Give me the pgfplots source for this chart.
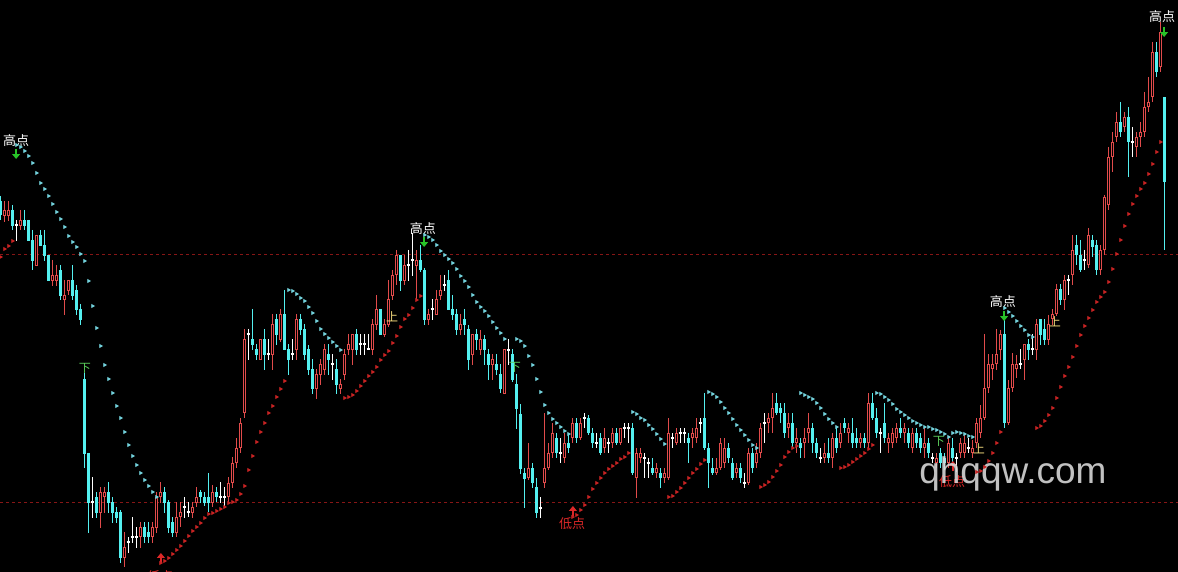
\documentclass[border=0pt]{standalone}
\usepackage{pgfplots}
\pgfplotsset{compat=1.18}
\usepackage{pgfplotstable}
\usepackage{fontspec}
\setmainfont{Liberation Sans}
\newfontfamily\cjk{Noto Sans CJK SC}
\usetikzlibrary{arrows.meta}
\definecolor{cup}{RGB}{225,75,75}
\definecolor{cdn}{RGB}{84,240,240}
\definecolor{sarc}{RGB}{115,210,220}
\definecolor{sarr}{RGB}{200,35,35}
\definecolor{dline}{RGB}{135,22,22}
\definecolor{garr}{RGB}{40,195,40}
\definecolor{ylab}{RGB}{245,220,125}
\definecolor{glab}{RGB}{90,205,90}
\definecolor{rlab}{RGB}{220,40,40}
\definecolor{wm}{RGB}{215,215,215}
% t: 0 = up (red hollow), 1 = down (cyan), 2 = doji (white); y values: top=0
\pgfplotstableread{
x t wt bt bb wb
0 1 196 201 215 220
1 0 201 210 216 222
2 0 201 210 216 221
3 1 205 210 226 230
4 2 220 225 225 241
5 0 210 220 226 230
6 1 210 220 226 230
7 1 220 220 241 241
8 1 230 240 261 270
9 0 235 235 266 266
10 1 230 235 246 246
11 1 230 245 256 261
12 1 255 255 281 281
13 0 260 275 281 286
14 0 265 275 281 286
15 1 265 270 296 300
16 0 280 295 300 315
17 0 280 280 291 295
18 1 265 280 296 300
19 1 285 290 310 315
20 1 304 309 320 325
21 1 373 379 454 468
22 1 453 453 503 533
23 2 477 502 502 518
24 1 492 497 513 518
25 0 487 492 513 528
26 0 487 492 497 513
27 1 482 492 503 513
28 1 497 502 513 523
29 1 507 512 518 523
30 1 510 512 558 563
31 0 532 547 558 567
32 2 537 542 542 553
33 2 517 537 537 543
34 2 527 537 537 548
35 0 522 527 537 548
36 1 522 527 537 543
37 1 522 532 537 543
38 0 522 527 537 543
39 0 492 497 528 533
40 0 482 492 497 503
41 1 487 492 503 513
42 1 500 502 528 533
43 1 517 522 533 537
44 0 502 517 533 537
45 0 502 512 517 527
46 2 497 507 507 518
47 2 502 512 512 517
48 0 502 507 513 518
49 0 487 497 503 507
50 1 490 492 497 503
51 1 492 497 503 506
52 1 473 497 503 512
53 0 485 492 503 507
54 1 487 492 497 502
55 2 482 497 497 503
56 2 487 497 497 507
57 0 477 483 497 503
58 0 457 463 483 488
59 0 438 448 463 468
60 0 418 423 448 453
61 0 329 339 413 418
62 2 329 334 334 360
63 1 309 339 345 350
64 1 344 349 355 360
65 0 339 339 360 360
66 1 329 339 355 370
67 2 339 354 354 360
68 0 314 324 355 370
69 1 314 319 335 345
70 0 309 314 340 342
71 1 290 314 350 350
72 1 344 349 360 375
73 2 339 354 354 360
74 0 314 319 350 360
75 1 314 319 330 335
76 1 324 329 355 360
77 1 345 349 370 375
78 1 359 369 389 394
79 0 369 374 389 399
80 0 359 364 375 385
81 0 344 349 370 375
82 1 344 354 360 375
83 2 354 364 364 380
84 1 359 369 385 394
85 0 379 384 389 394
86 0 349 354 375 380
87 0 334 344 350 355
88 0 334 334 350 365
89 1 329 334 350 355
90 2 334 344 344 355
91 2 334 344 344 355
92 2 334 349 349 350
93 0 319 324 350 355
94 0 295 309 325 330
95 1 309 309 335 335
96 0 319 324 335 337
97 0 280 299 325 327
98 0 270 275 296 300
99 0 250 255 275 285
100 1 255 255 281 291
101 0 255 265 281 285
102 2 250 265 265 281
103 2 233 260 260 276
104 0 250 260 266 300
105 1 245 260 270 272
106 1 268 270 320 325
107 0 309 314 320 325
108 2 299 309 309 320
109 0 290 299 315 315
110 0 275 290 296 300
111 2 275 285 285 291
112 1 270 280 310 310
113 1 295 309 315 320
114 1 309 314 330 335
115 0 314 324 330 335
116 1 309 319 325 335
117 1 325 329 360 370
118 0 334 334 355 365
119 1 329 334 340 350
120 0 330 339 350 355
121 1 335 339 350 365
122 1 349 354 365 380
123 0 354 359 365 380
124 1 354 364 370 375
125 1 364 374 389 393
126 0 349 349 394 394
127 2 339 350 350 365
128 1 349 354 380 382
129 1 374 384 409 429
130 1 404 414 469 474
131 1 468 473 479 508
132 0 443 468 478 480
133 1 463 468 483 488
134 1 478 487 513 518
135 2 497 508 508 518
136 0 413 468 483 488
137 0 443 453 468 470
138 0 423 433 453 458
139 1 433 438 453 458
140 2 438 453 453 463
141 0 433 443 458 463
142 1 433 443 448 453
143 0 418 423 438 443
144 1 418 423 438 443
145 0 418 423 438 440
146 2 413 418 418 428
147 1 415 418 433 435
148 1 428 433 443 448
149 2 433 443 443 448
150 1 433 438 453 455
151 0 428 438 448 453
152 2 438 443 443 453
153 0 428 433 443 448
154 1 428 433 443 445
155 0 428 428 443 445
156 2 423 428 428 438
157 2 423 428 428 443
158 1 423 428 473 475
159 0 448 453 478 498
160 0 448 453 458 463
161 2 453 458 458 478
162 2 458 463 463 478
163 1 458 468 473 475
164 0 463 468 473 478
165 1 468 473 478 488
166 0 468 473 478 483
167 0 418 433 478 480
168 2 433 438 438 448
169 0 428 433 443 445
170 2 428 433 433 443
171 2 428 433 433 443
172 1 433 438 443 463
173 0 428 433 438 448
174 0 418 428 438 443
175 2 418 423 423 433
176 1 393 418 448 450
177 1 443 448 463 488
178 1 458 468 473 475
179 0 458 468 473 475
180 0 438 443 468 470
181 0 438 448 463 468
182 1 443 448 458 463
183 1 458 463 478 480
184 0 463 468 473 478
185 1 463 468 478 483
186 2 473 483 483 488
187 0 448 453 483 485
188 1 448 453 468 473
189 0 443 453 463 468
190 0 423 428 453 458
191 2 413 423 423 443
192 0 413 418 423 433
193 0 393 408 418 433
194 1 393 403 413 415
195 1 403 408 413 423
196 1 403 413 433 438
197 0 413 423 428 438
198 1 413 423 443 448
199 0 428 438 443 453
200 1 438 443 448 458
201 0 428 438 443 458
202 0 413 428 433 443
203 1 423 428 443 453
204 1 438 443 453 458
205 2 448 458 458 463
206 0 443 453 458 463
207 1 438 453 458 463
208 0 433 438 458 468
209 1 428 438 448 453
210 0 423 433 443 448
211 1 418 423 428 433
212 0 423 428 433 443
213 1 418 433 443 448
214 1 428 438 443 448
215 0 433 438 443 448
216 1 433 438 443 448
217 0 393 403 443 448
218 1 393 403 418 420
219 1 408 418 433 438
220 2 428 433 433 453
221 1 403 423 438 443
222 0 433 438 443 453
223 0 428 433 443 448
224 0 423 428 438 443
225 1 418 428 433 438
226 0 423 428 433 443
227 1 428 433 443 448
228 0 428 433 448 453
229 1 428 433 443 448
230 1 433 438 448 453
231 0 428 443 448 458
232 1 438 443 453 458
233 2 453 458 458 463
234 0 453 458 463 468
235 1 448 453 463 468
236 1 453 458 463 470
237 0 438 443 463 468
238 1 438 448 458 463
239 2 453 458 458 472
240 0 438 443 453 458
241 0 433 443 453 458
242 2 438 448 448 453
243 0 440 448 453 458
244 0 418 423 443 448
245 0 405 418 433 438
246 0 334 388 418 420
247 0 354 364 388 393
248 0 354 364 369 380
249 0 329 354 364 370
250 0 330 334 350 360
251 1 320 334 423 428
252 0 380 388 423 425
253 0 353 364 388 392
254 0 355 364 369 378
255 2 349 364 364 369
256 0 344 344 360 380
257 1 339 344 350 360
258 2 334 349 349 355
259 0 319 324 350 360
260 1 319 319 335 345
261 1 319 329 340 345
262 0 315 324 340 345
263 0 309 314 319 325
264 0 284 289 314 316
265 1 284 289 300 305
266 0 275 280 300 310
267 2 275 280 280 295
268 0 235 250 275 285
269 1 235 245 255 265
270 1 240 255 270 272
271 2 250 260 260 270
272 0 228 235 265 268
273 1 235 240 247 257
274 1 240 245 270 275
275 0 245 250 270 275
276 0 195 197 250 255
277 0 147 157 205 210
278 0 132 142 157 172
279 0 112 122 137 142
280 1 102 122 132 137
281 0 112 117 127 132
282 1 107 117 142 177
283 2 127 142 142 157
284 0 132 137 147 157
285 0 122 132 137 147
286 0 92 107 132 137
287 0 77 102 107 112
288 0 42 52 97 102
289 1 42 52 72 77
290 0 22 32 67 72
291 1 97 97 182 250
}\candles
\pgfplotstableread{
x v
4 145
5 147
6 151
7 156
8 163
9 173
10 183
11 189
12 196
13 204
14 212
15 219
16 227
17 236
18 242
19 247
20 254
21 261
22 281
23 306
24 328
25 346
26 365
27 379
28 393
29 406
30 418
31 432
32 445
33 456
34 465
35 473
36 480
37 486
38 492
39 497
72 290
73 291
74 294
75 298
76 301
77 307
78 313
79 321
80 329
81 334
82 338
83 342
84 346
85 350
106 235
107 237
108 240
109 245
110 251
111 255
112 259
113 263
114 269
115 276
116 281
117 287
118 295
119 302
120 307
121 311
122 316
123 322
124 328
125 333
126 339
129 339
130 341
131 346
132 356
133 365
134 379
135 392
136 405
137 413
138 419
139 423
140 427
141 431
142 434
158 412
159 414
160 418
161 420
162 425
163 429
164 434
165 439
166 444
177 392
178 394
179 397
180 402
181 408
182 413
183 419
184 425
185 430
186 435
187 440
188 445
189 448
200 393
201 395
202 397
203 399
204 403
205 408
206 414
207 419
208 423
209 427
219 393
220 394
221 397
222 400
223 404
224 409
225 412
226 415
227 418
228 421
229 423
230 425
231 427
232 427
233 429
234 430
235 432
236 434
237 437
238 433
239 432
240 433
241 434
242 436
243 437
251 308
252 312
253 316
254 321
255 326
256 330
257 335
258 337
}\sarcyan
\pgfplotstableread{
x v
0 257
1 249
2 246
3 241
40 563
41 561
42 558
43 554
44 550
45 546
46 541
47 536
48 531
49 527
50 523
51 518
52 514
53 513
54 511
55 509
56 507
57 503
58 502
59 500
60 494
61 486
62 470
63 456
64 442
65 432
66 423
67 413
68 406
69 397
70 389
71 381
86 398
87 397
88 395
89 391
90 386
91 381
92 376
93 372
94 367
95 360
96 355
97 351
98 343
99 336
100 327
101 319
102 315
103 308
104 300
105 296
143 517
144 515
145 510
146 505
147 497
148 489
149 483
150 478
151 473
152 469
153 466
154 463
155 459
156 457
157 453
167 497
168 496
169 492
170 488
171 483
172 478
173 473
174 469
175 464
176 460
190 487
191 485
192 482
193 477
194 471
195 465
196 457
197 452
198 448
199 446
210 468
211 467
212 465
213 462
214 459
215 456
216 453
217 449
218 445
244 472
245 471
246 467
247 461
248 453
249 443
250 432
259 428
260 426
261 421
262 415
263 408
264 398
265 387
266 376
267 367
268 357
269 346
270 335
271 326
272 318
273 310
274 302
275 297
276 292
277 282
278 269
279 254
280 240
281 226
282 214
283 204
284 196
285 189
286 183
287 174
288 164
289 152
290 142
}\sarred
\begin{document}
\begin{tikzpicture}
\fill[black] (0,0) rectangle (589pt,286pt);
\begin{axis}[
  at={(0,0)}, anchor=south west,
  scale only axis, width=589pt, height=286pt,
  xmin=-0.125, xmax=294.375, ymin=0, ymax=572, y dir=reverse,
  hide axis,
]
% dashed reference lines
\addplot[dline, line width=0.5pt, dash pattern=on 1.5pt off 1.5pt] coordinates {(-0.125,254.5) (294.375,254.5)};
\addplot[dline, line width=0.5pt, dash pattern=on 1.5pt off 1.5pt] coordinates {(-0.125,502.5) (294.375,502.5)};
% up candles
\addplot[cup, line width=0.55pt, -, quiver={u=0, v={\thisrow{wb}-\thisrow{wt}}}, restrict expr to domain={\thisrow{t}}{0:0}] table[x=x, y=wt]{\candles};
\addplot[cup, line width=1.8pt, -, quiver={u=0, v={\thisrow{bb}-\thisrow{bt}}}, restrict expr to domain={\thisrow{t}}{0:0}] table[x=x, y=bt]{\candles};
\addplot[black, line width=0.65pt, -, quiver={u=0, v={max(\thisrow{bb}-\thisrow{bt}-2.2,0)}}, restrict expr to domain={\thisrow{t}}{0:0}] table[x=x, y expr=\thisrow{bt}+1.1]{\candles};
% down candles
\addplot[cdn, line width=0.55pt, -, quiver={u=0, v={\thisrow{wb}-\thisrow{wt}}}, restrict expr to domain={\thisrow{t}}{1:1}] table[x=x, y=wt]{\candles};
\addplot[cdn, line width=1.8pt, -, quiver={u=0, v={\thisrow{bb}-\thisrow{bt}}}, restrict expr to domain={\thisrow{t}}{1:1}] table[x=x, y=bt]{\candles};
% doji
\addplot[white, line width=0.55pt, -, quiver={u=0, v={\thisrow{wb}-\thisrow{wt}}}, restrict expr to domain={\thisrow{t}}{2:2}] table[x=x, y=wt]{\candles};
\addplot[white, line width=0.6pt, -, quiver={u=0.9, v=0}, restrict expr to domain={\thisrow{t}}{2:2}] table[x expr=\thisrow{x}-0.45, y=bt]{\candles};
% SAR dots
\addplot[only marks, mark=triangle*, mark size=0.85pt, mark options={rotate=-90, draw=sarc, fill=sarc}] table[x=x, y=v]{\sarcyan};
\addplot[only marks, mark=triangle*, mark size=0.85pt, mark options={rotate=-90, draw=sarr, fill=sarr}] table[x=x, y=v]{\sarred};
% high-point labels
\node[text=white, font=\cjk\fontsize{6.5}{6.5}\selectfont, inner sep=0] at (axis cs:3.9,141) {高点};
\node[text=white, font=\cjk\fontsize{6.5}{6.5}\selectfont, inner sep=0] at (axis cs:105.6,229) {高点};
\node[text=white, font=\cjk\fontsize{6.5}{6.5}\selectfont, inner sep=0] at (axis cs:250.6,302) {高点};
\node[text=white, font=\cjk\fontsize{6.5}{6.5}\selectfont, inner sep=0] at (axis cs:290.4,17) {高点};
\draw[garr, line width=1.3pt, -{Triangle[width=3.8pt,length=2.4pt]}] (axis cs:3.9,149) -- (axis cs:3.9,159);
\draw[garr, line width=1.3pt, -{Triangle[width=3.8pt,length=2.4pt]}] (axis cs:105.9,237) -- (axis cs:105.9,247);
\draw[garr, line width=1.3pt, -{Triangle[width=3.8pt,length=2.4pt]}] (axis cs:250.9,311) -- (axis cs:250.9,321);
\draw[garr, line width=1.3pt, -{Triangle[width=3.8pt,length=2.4pt]}] (axis cs:290.9,27) -- (axis cs:290.9,37);
% low-point labels
\node[text=rlab, font=\cjk\fontsize{6.5}{6.5}\selectfont, inner sep=0] at (axis cs:142.9,524) {低点};
\node[text=rlab, font=\cjk\fontsize{6.5}{6.5}\selectfont, inner sep=0] at (axis cs:39.9,577) {低点};
\node[text=rlab, font=\cjk\fontsize{6.5}{6.5}\selectfont, inner sep=0] at (axis cs:237.9,482) {低点};
\draw[rlab, line width=1.3pt, -{Triangle[width=3.8pt,length=2.4pt]}] (axis cs:143.1,516) -- (axis cs:143.1,506);
\draw[rlab, line width=1.3pt, -{Triangle[width=3.8pt,length=2.4pt]}] (axis cs:40.1,563) -- (axis cs:40.1,553);
\draw[rlab, line width=1.3pt, -{Triangle[width=3.8pt,length=2.4pt]}] (axis cs:238.1,471) -- (axis cs:238.1,461);
% up / down signal labels
\node[text=ylab, font=\cjk\fontsize{6}{6}\selectfont, inner sep=0] at (axis cs:97.9,317) {上};
\node[text=ylab, font=\cjk\fontsize{6}{6}\selectfont, inner sep=0] at (axis cs:244.6,449) {上};
\node[text=ylab, font=\cjk\fontsize{6}{6}\selectfont, inner sep=0] at (axis cs:263.6,322) {上};
\node[text=glab, font=\cjk\fontsize{6}{6}\selectfont, inner sep=0] at (axis cs:21.1,368) {下};
\node[text=glab, font=\cjk\fontsize{6}{6}\selectfont, inner sep=0] at (axis cs:128.6,367) {下};
\node[text=glab, font=\cjk\fontsize{6}{6}\selectfont, inner sep=0] at (axis cs:234.6,441) {下};
% watermark
\node[text=wm, opacity=0.9, font=\fontsize{18.5}{18.5}\selectfont, anchor=base west, inner sep=0] at (axis cs:229.6,483) {qhqqw.com};
\end{axis}
\pgfresetboundingbox
\useasboundingbox (0,0) rectangle (589pt,286pt);
\end{tikzpicture}
\end{document}
